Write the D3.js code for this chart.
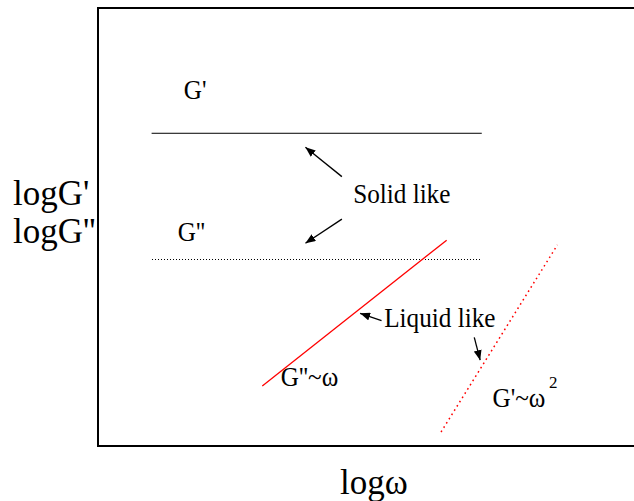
<!DOCTYPE html>
<html>
<head>
<meta charset="utf-8">
<script src="https://cdn.jsdelivr.net/npm/d3@7"></script>
<style>
  html, body { margin: 0; padding: 0; background: #fff; }
  svg { display: block; }
  text { font-family: "Liberation Serif", "Times New Roman", serif; fill: #000; }
</style>
</head>
<body>
<svg id="chart" width="634" height="501"></svg>
<script>
// Schematic moduli vs frequency (log-log), arbitrary units 0..10 on both axes
const plateauX = [1.0, 7.16];          // extent of the plateau lines
const storagePlateau = [7.14, 7.14];    // G' (solid like)
const lossPlateau = [4.26, 4.26];       // G'' (solid like)
const lossTerminalX = [3.065, 6.505];   // G'' ~ ω (liquid like)
const lossTerminalY = [1.37, 4.70];
const storageTerminalX = [6.40, 8.57];  // G' ~ ω² (liquid like)
const storageTerminalY = [0.32, 4.59];

// Annotation arrows: [x0, y0, x1(tip), y1(tip)]
const arrows = [
  [4.55, 6.15, 3.87, 6.82],
  [4.55, 5.18, 3.87, 4.63],
  [5.29, 2.86, 4.89, 3.03],
  [7.02, 2.48, 7.13, 1.96]
];

// Text labels: [text, x, y(baseline)]
const labels = [
  ["G'", 1.60, 7.92],
  ["G''", 1.49, 4.68],
  ["Solid like", 4.76, 5.55],
  ["Liquid like", 5.34, 2.72],
  ["G''~ω", 3.41, 1.37],
  ["G'~ω", 7.36, 0.88]
];

const svg = d3.select("#chart");
const x = d3.scaleLinear().domain([0, 10]).range([98, 634]);
const y = d3.scaleLinear().domain([0, 10]).range([446, 8]);

// frame (right edge runs past the page)
svg.append("rect")
  .attr("x", x(0)).attr("y", y(10))
  .attr("width", 560).attr("height", y(0) - y(10))
  .attr("fill", "none").attr("stroke", "#000").attr("stroke-width", 2);

const line = d3.line().x(d => x(d[0])).y(d => y(d[1]));

svg.append("path")
  .attr("d", line(d3.zip(plateauX, storagePlateau)))
  .attr("fill", "none").attr("stroke", "#000").attr("stroke-width", 1);

svg.append("path")
  .attr("d", line(d3.zip(plateauX, lossPlateau)))
  .attr("fill", "none").attr("stroke", "#000").attr("stroke-width", 1)
  .attr("shape-rendering", "crispEdges")
  .attr("stroke-dasharray", "1,2");

svg.append("path")
  .attr("d", line(d3.zip(lossTerminalX, lossTerminalY)))
  .attr("fill", "none").attr("stroke", "#ff0000").attr("stroke-width", 1.3);

svg.append("path")
  .attr("d", line(d3.zip(storageTerminalX, storageTerminalY)))
  .attr("fill", "none").attr("stroke", "#ff0000").attr("stroke-width", 1.5)
  .attr("stroke-dasharray", "1.6,3.4");

// arrowhead marker
svg.append("defs").append("marker")
  .attr("id", "head")
  .attr("viewBox", "0 0 10 8")
  .attr("refX", 10).attr("refY", 4)
  .attr("markerWidth", 10).attr("markerHeight", 8)
  .attr("markerUnits", "userSpaceOnUse")
  .attr("orient", "auto")
  .append("path").attr("d", "M0,0 L10,4 L0,8 Z").attr("fill", "#000");

svg.selectAll("line.arrow").data(arrows).join("line")
  .attr("class", "arrow")
  .attr("x1", d => x(d[0])).attr("y1", d => y(d[1]))
  .attr("x2", d => x(d[2])).attr("y2", d => y(d[3]))
  .attr("stroke", "#000").attr("stroke-width", 1.3)
  .attr("marker-end", "url(#head)");

// in-plot labels, set slightly condensed
svg.selectAll("text.lab").data(labels).join("text")
  .attr("class", "lab")
  .attr("transform", d => `translate(${x(d[1])},${y(d[2])}) scale(0.9,1)`)
  .attr("font-size", 28)
  .text(d => d[0]);

// superscript exponent on G'~ω²
svg.append("text")
  .attr("x", 549).attr("y", 388)
  .attr("font-size", 17)
  .text("2");

// axis titles
svg.append("text").attr("x", 13).attr("y", 205).attr("font-size", 35).text("logG'");
svg.append("text").attr("x", 13).attr("y", 243).attr("font-size", 35).text("logG''");
svg.append("text").attr("x", 340).attr("y", 494).attr("font-size", 35).text("logω");
</script>
</body>
</html>
